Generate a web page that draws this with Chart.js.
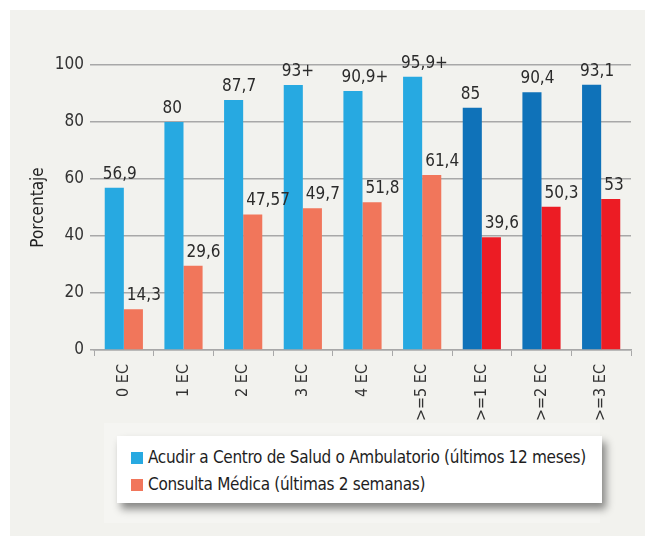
<!DOCTYPE html>
<html lang="es">
<head>
<meta charset="utf-8">
<script src="https://cdn.jsdelivr.net/npm/chart.js@4.4.1/dist/chart.umd.min.js"></script>
<style>
  body { margin: 0; width: 645px; height: 536px; background: #fff; position: relative; overflow: hidden; }
  #panel { position: absolute; left: 10px; top: 10px; width: 635px; height: 526px; background: #f2f2ee; }
  #legendBack { position: absolute; left: 104px; top: 423px; width: 496px; height: 100px; background: #f5f5f2; }
  #chartBox { position: absolute; left: 0; top: 0; width: 645px; height: 430px; }
  #legend {
    position: absolute; left: 117px; top: 436px; width: 485px; height: 67px;
    background: #fff; box-shadow: 4px 6px 8px rgba(0, 0, 0, 0.45);
    font-family: 'Liberation Sans Narrow', 'DejaVu Sans Condensed', sans-serif;
    font-size: 17px; color: #1e1e1e; letter-spacing: -0.3px;
  }
  .legend-item { position: absolute; left: 14px; height: 20px; line-height: 20px; white-space: nowrap; }
  .legend-item span { display: inline-block; width: 12px; height: 12px; margin-right: 5px; vertical-align: -1px; }
</style>
</head>
<body>
<div id="panel"></div>
<div id="legendBack"></div>
<div id="chartBox"><canvas id="chart" width="645" height="430"></canvas></div>
<div id="legend">
  <div class="legend-item" style="top: 11px;"><span style="background:#27a9e1"></span>Acudir a Centro de Salud o Ambulatorio (últimos 12 meses)</div>
  <div class="legend-item" style="top: 38px;"><span style="background:#f1765b"></span>Consulta Médica (últimas 2 semanas)</div>
</div>
<script>
// データ
const categories = ['0 EC', '1 EC', '2 EC', '3 EC', '4 EC', '>=5 EC', '>=1 EC', '>=2 EC', '>=3 EC'];
const centroValues = [56.9, 80, 87.7, 93, 90.9, 95.9, 85, 90.4, 93.1];
const centroLabels = ['56,9', '80', '87,7', '93+', '90,9+', '95,9+', '85', '90,4', '93,1'];
const consultaValues = [14.3, 29.6, 47.57, 49.7, 51.8, 61.4, 39.6, 50.3, 53];
const consultaLabels = ['14,3', '29,6', '47,57', '49,7', '51,8', '61,4', '39,6', '50,3', '53'];
const yTicks = [0, 20, 40, 60, 80, 100];

const FONT = "'Liberation Sans Narrow', 'DejaVu Sans Condensed', sans-serif";

// 最後の3グループは濃い色
const centroColors = categories.map((c, i) => i < 6 ? '#27a9e1' : '#0f72b9');
const consultaColors = categories.map((c, i) => i < 6 ? '#f1765b' : '#ec1c24');

// 値ラベル
const valueLabels = {
  id: 'valueLabels',
  afterDatasetsDraw(chart) {
    const ctx = chart.ctx;
    const texts = [centroLabels, consultaLabels];
    const shifts = [-2, 3];
    ctx.save();
    ctx.font = '17px ' + FONT;
    ctx.fillStyle = '#2b2b2b';
    ctx.textAlign = 'left';
    ctx.textBaseline = 'bottom';
    chart.data.datasets.forEach((ds, d) => {
      chart.getDatasetMeta(d).data.forEach((bar, i) => {
        const left = bar.x - bar.width / 2;
        ctx.fillText(texts[d][i], left + shifts[d], bar.y - 5);
      });
    });
    ctx.restore();
  }
};

new Chart(document.getElementById('chart'), {
  type: 'bar',
  data: {
    labels: categories,
    datasets: [{
      label: 'Acudir a Centro de Salud o Ambulatorio (últimos 12 meses)',
      data: centroValues,
      backgroundColor: centroColors
    }, {
      label: 'Consulta Médica (últimas 2 semanas)',
      data: consultaValues,
      backgroundColor: consultaColors
    }]
  },
  options: {
    responsive: false,
    animation: false,
    layout: { padding: { top: 65, right: 14, left: 0, bottom: 0 } },
    categoryPercentage: 0.64,
    barPercentage: 1,
    plugins: {
      legend: { display: false },
      tooltip: { enabled: false }
    },
    scales: {
      x: {
        afterFit(scale) { scale.height = 80; },
        grid: { display: true, drawOnChartArea: false, drawTicks: true, tickLength: 6, color: '#a8a8a8', offset: true },
        border: { display: true, color: '#a8a8a8', width: 1.5 },
        ticks: {
          minRotation: 90, maxRotation: 90, padding: 8,
          color: '#333', font: { family: FONT, size: 16 }
        }
      },
      y: {
        min: 0, max: 100,
        afterFit(scale) { scale.width = 94; },
        afterBuildTicks(scale) { scale.ticks = yTicks.map(v => ({ value: v })); },
        grid: { color: '#a8a8a8', lineWidth: 1.5, tickLength: 4, drawTicks: true },
        border: { display: false },
        ticks: { padding: 6, color: '#333', font: { family: FONT, size: 17 } },
        title: {
          display: true, text: 'Porcentaje', color: '#222',
          font: { family: FONT, size: 17 }, padding: { top: 28, bottom: 0 }
        }
      }
    }
  },
  plugins: [valueLabels]
});
</script>
</body>
</html>
